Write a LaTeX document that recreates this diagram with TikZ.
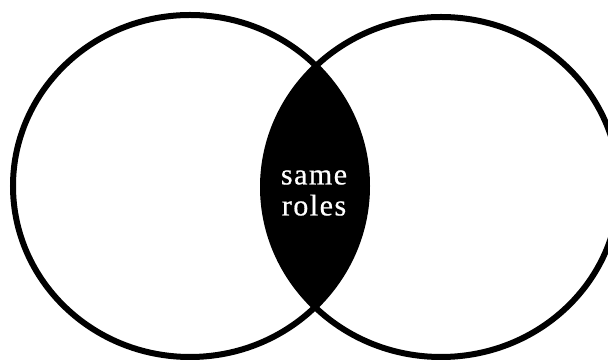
\documentclass[tikz,border=0pt]{standalone}
\usepackage{fontspec}
\setmainfont{Liberation Serif}
\newfontfamily\lblfont[LetterSpace=5,FakeBold=0.6]{Liberation Serif}
\begin{document}
\begin{tikzpicture}[x=1pt,y=1pt,
  ring/.style={draw=black,line width=6pt},
  lbl/.style={text=white,align=center,font=\lblfont\fontsize{30}{31}\selectfont,inner sep=0pt}]
\useasboundingbox (0,0) rectangle (608,363);
\clip (0,0) rectangle (608,363);
\begin{scope}
  \clip (190,177) ellipse [x radius=177, y radius=171];
  \fill[black] (441,176) ellipse [x radius=178, y radius=170];
\end{scope}
\draw[ring] (190,177) ellipse [x radius=177, y radius=171];
\draw[ring] (441,176) ellipse [x radius=178, y radius=170];
\node[lbl] (label) at (314,170) {same\\roles};
\end{tikzpicture}
\end{document}
